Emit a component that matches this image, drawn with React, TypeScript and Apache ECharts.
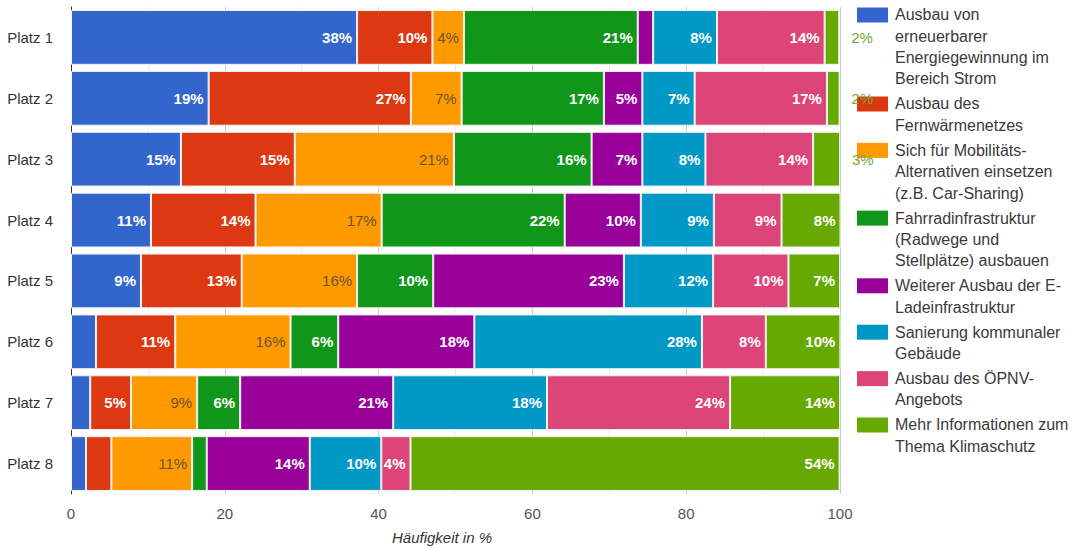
import React, { useEffect, useRef } from "react";
import * as echarts from "echarts";

const categories = ["Platz 1", "Platz 2", "Platz 3", "Platz 4", "Platz 5", "Platz 6", "Platz 7", "Platz 8"];

const seriesNames = [
  "Ausbau von\nerneuerbarer\nEnergiegewinnung im\nBereich Strom",
  "Ausbau des\nFernwärmenetzes",
  "Sich für Mobilitäts-\nAlternativen einsetzen\n(z.B. Car-Sharing)",
  "Fahrradinfrastruktur\n(Radwege und\nStellplätze) ausbauen",
  "Weiterer Ausbau der E-\nLadeinfrastruktur",
  "Sanierung kommunaler\nGebäude",
  "Ausbau des ÖPNV-\nAngebots",
  "Mehr Informationen zum\nThema Klimaschutz",
];

const colors = ["#3366cc", "#dc3912", "#ff9900", "#109618", "#990099", "#0099c6", "#dd4477", "#66aa00"];

// bar lengths (share in %)
const energieValues = [37.2, 17.9, 14.3, 10.4, 9.1, 3.25, 2.5, 1.95];
const fernwaermeValues = [9.8, 26.3, 14.8, 13.6, 13.1, 10.3, 5.3, 3.3];
const mobilitaetValues = [4.1, 6.6, 20.7, 16.4, 15.0, 15.0, 8.6, 10.5];
const fahrradValues = [22.6, 18.5, 17.9, 23.8, 9.9, 6.2, 5.6, 1.9];
const eladeValues = [2.0, 5.0, 6.6, 9.9, 24.8, 17.7, 19.9, 13.4];
const sanierungValues = [8.3, 6.8, 8.2, 9.5, 11.6, 29.6, 20.0, 9.3];
const oepnvValues = [14.0, 17.2, 14.0, 8.8, 9.8, 8.3, 23.8, 3.8];
const infoValues = [1.9, 1.65, 3.5, 7.7, 6.7, 9.7, 14.3, 55.8];

// displayed percentage labels (null = no label shown)
const energieLabels = [38, 19, 15, 11, 9, null, null, null];
const fernwaermeLabels = [10, 27, 15, 14, 13, 11, 5, null];
const mobilitaetLabels = [4, 7, 21, 17, 16, 16, 9, 11];
const fahrradLabels = [21, 17, 16, 22, 10, 6, 6, null];
const eladeLabels = [null, 5, 7, 10, 23, 18, 21, 14];
const sanierungLabels = [8, 7, 8, 9, 12, 28, 18, 10];
const oepnvLabels = [14, 17, 14, 9, 10, 8, 24, 4];
const infoLabels = [2, 2, 3, 8, 7, 10, 14, 54];
// rows whose label does not fit inside its segment
const infoOutsideRows = [0, 1, 2];

const xTicks = { min: 0, max: 100, interval: 20 };
const xTitle = "Häufigkeit in %";

const allValues = [energieValues, fernwaermeValues, mobilitaetValues, fahrradValues, eladeValues, sanierungValues, oepnvValues, infoValues];
const allLabels = [energieLabels, fernwaermeLabels, mobilitaetLabels, fahrradLabels, eladeLabels, sanierungLabels, oepnvLabels, infoLabels];

const FONT = "'Liberation Sans', Arial, sans-serif";

export default function App() {
  const ref = useRef<HTMLDivElement>(null);
  useEffect(() => {
    if (!ref.current) return;
    const chart = echarts.init(ref.current, null, { renderer: "svg" });

    const series = allValues.map((vals, si) => {
      const labs = allLabels[si];
      const isOrange = si === 2;
      return {
        type: "bar",
        name: seriesNames[si],
        stack: "total",
        barCategoryGap: "10%",
        itemStyle: { color: colors[si], borderColor: "#f2f2f2", borderWidth: 1 },
        label: {
          show: true,
          position: "insideRight",
          distance: 5,
          fontFamily: FONT,
          fontSize: 15,
          fontWeight: isOrange ? "normal" : "bold",
          color: isOrange ? "#6b5530" : "#ffffff",
          formatter: (p: any) => (labs[p.dataIndex] == null ? "" : labs[p.dataIndex] + "%"),
        },
        data: vals.map((v, i) => {
          if (si === 7 && infoOutsideRows.includes(i)) {
            return {
              value: v,
              label: { position: "right", distance: 12, color: "#72a830", fontWeight: "normal" },
            };
          }
          return { value: v };
        }),
      };
    });

    // legend drawn as graphic (square aligned to the first text line)
    const legendEls: any[] = [];
    const lineH = 21.3;
    const itemGap = 3.8;
    let cy = 15;
    seriesNames.forEach((name, i) => {
      const nLines = name.split("\n").length;
      legendEls.push({
        type: "rect",
        shape: { x: 857, y: cy - 7.5, width: 31, height: 15 },
        style: { fill: colors[i] },
      });
      legendEls.push({
        type: "text",
        x: 895,
        y: cy - lineH / 2,
        style: {
          text: name,
          fill: "#3a3a3a",
          font: `16px ${FONT}`,
          lineHeight: lineH,
          verticalAlign: "top",
          align: "left",
        },
      });
      cy += nLines * lineH + itemGap;
    });

    chart.setOption({
      animation: false,
      backgroundColor: "#ffffff",
      textStyle: { fontFamily: FONT },
      grid: { left: 71, right: 244, top: 7, bottom: 56, containLabel: false },
      xAxis: {
        type: "value",
        min: xTicks.min,
        max: xTicks.max,
        interval: xTicks.interval,
        axisLine: { show: false },
        axisTick: { show: false },
        axisLabel: { fontSize: 15, color: "#555", margin: 12, fontFamily: FONT },
        splitLine: { show: true, lineStyle: { color: "#cccccc" } },
        minorTick: { show: false, splitNumber: 2 },
        minorSplitLine: { show: true, lineStyle: { color: "#ebebeb" } },
      },
      yAxis: {
        type: "category",
        inverse: true,
        data: categories,
        axisLine: { show: true, lineStyle: { color: "#333" } },
        axisTick: { show: false },
        axisLabel: { fontSize: 15, color: "#333", margin: 18, fontFamily: FONT },
      },
      graphic: [
        ...legendEls,
        {
          type: "text",
          x: 442,
          y: 537,
          style: {
            text: xTitle,
            fill: "#333",
            font: `italic 15px ${FONT}`,
            align: "center",
            verticalAlign: "middle",
          },
        },
      ],
      series,
    });

    return () => chart.dispose();
  }, []);

  return (
    <div
      ref={ref}
      style={{ position: "absolute", left: 0, top: 0, width: 1084, height: 550 }}
    />
  );
}
